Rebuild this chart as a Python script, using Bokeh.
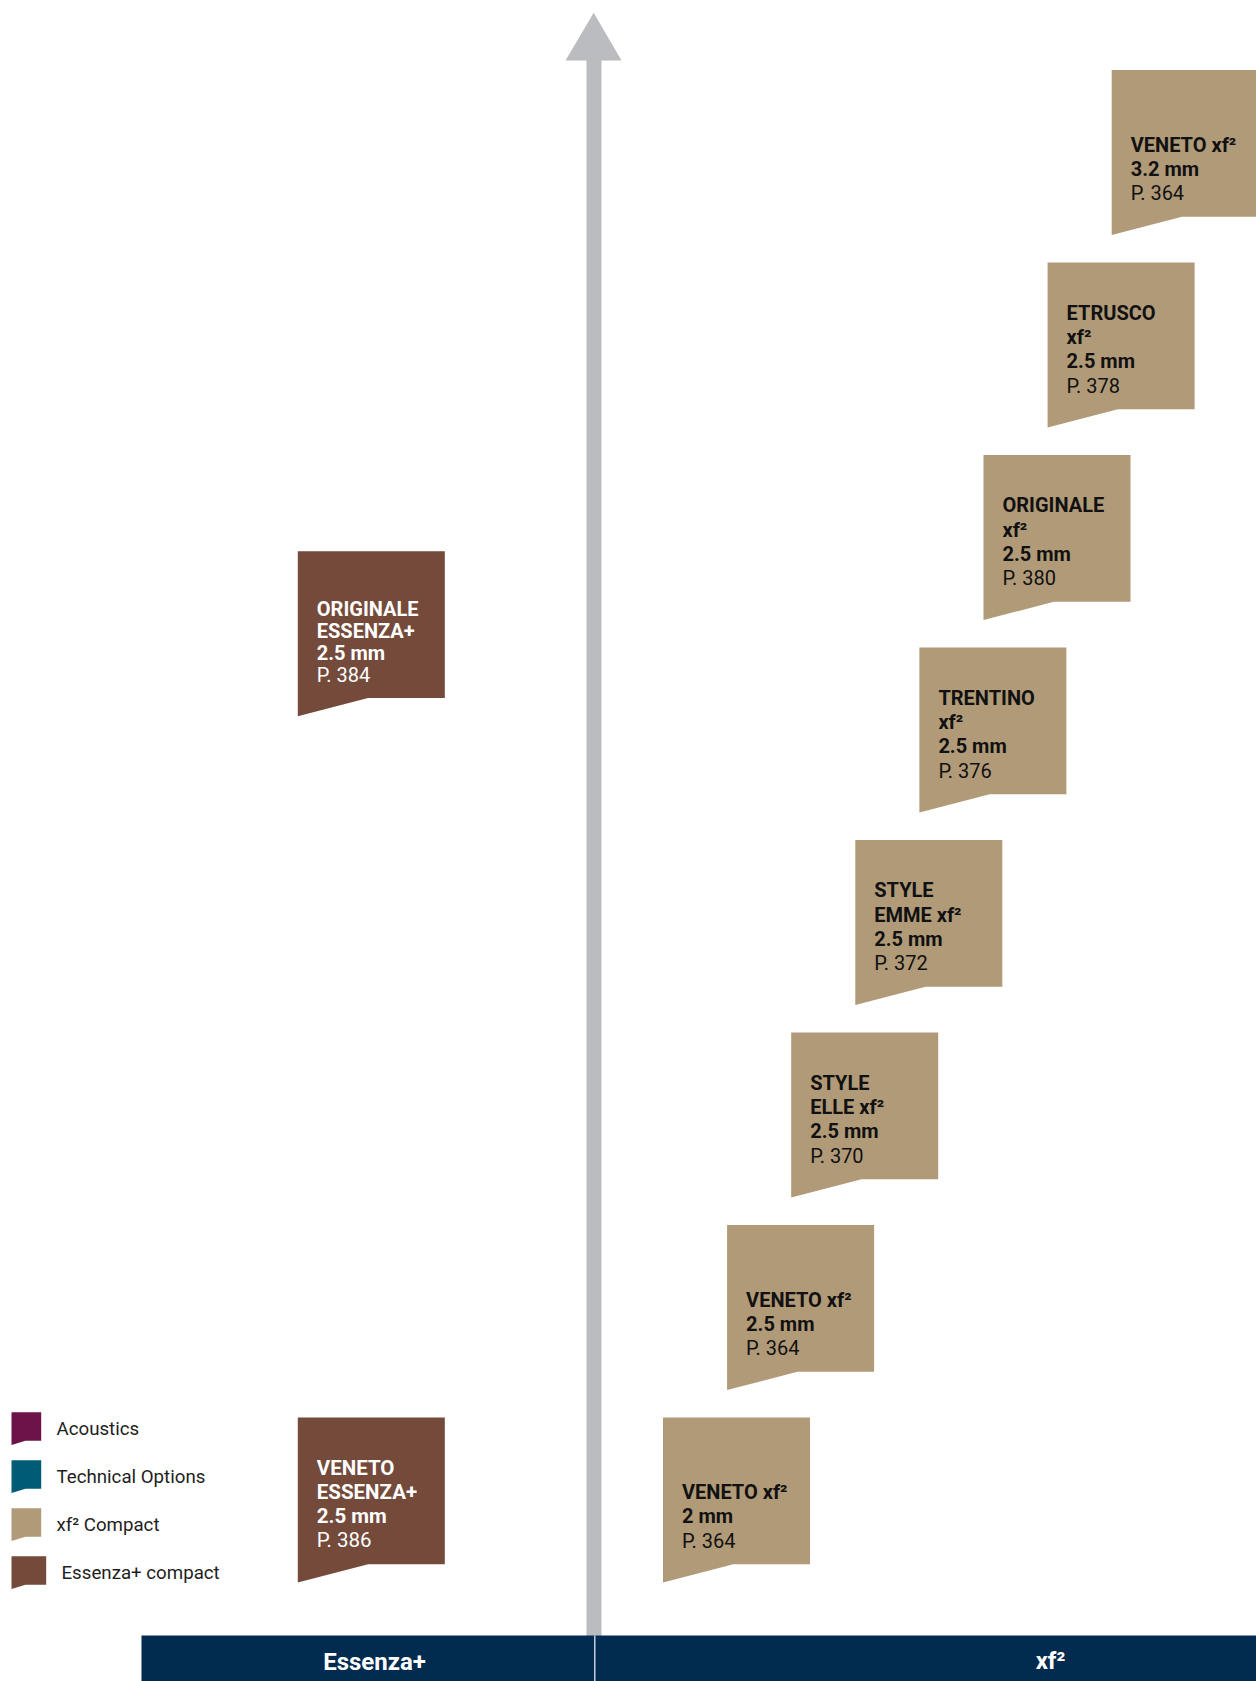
from bokeh.plotting import figure
from bokeh.models import Range1d, ColumnDataSource
from bokeh.core.properties import value
from bokeh.embed import file_html
from bokeh.resources import INLINE

# ---------------- data ----------------
xf2_names = ["VENETO xf²", "VENETO xf²", "STYLE\nELLE xf²", "STYLE\nEMME xf²",
             "TRENTINO\nxf²", "ORIGINALE\nxf²", "ETRUSCO\nxf²", "VENETO xf²"]
xf2_thickness = ["2 mm", "2.5 mm", "2.5 mm", "2.5 mm", "2.5 mm", "2.5 mm", "2.5 mm", "3.2 mm"]
xf2_pages = [364, 364, 370, 372, 376, 380, 378, 364]
xf2_levels = [0, 1, 2, 3, 4, 5, 6, 7]

ess_names = ["VENETO\nESSENZA+", "ORIGINALE\nESSENZA+"]
ess_thickness = ["2.5 mm", "2.5 mm"]
ess_pages = [386, 384]
ess_levels = [0, 4.5]

legend_labels = ["Acoustics", "Technical Options", "xf² Compact", "Essenza+ compact"]
column_labels = ["Essenza+", "xf²"]

# ---------------- styles / layout ----------------
C_ACOUSTIC = "#6C1449"
C_TECH = "#005C76"
C_TAN = "#B09A78"
C_BROWN = "#744A3B"
C_NAVY = "#012B4F"
C_ARROW = "#BBBCBF"
legend_colors = [C_ACOUSTIC, C_TECH, C_TAN, C_BROWN]

TOP0 = 1417.0        # top of level-0 box
YSTEP = 192.5        # vertical distance per level
XF2_X0 = 662.5       # left of level-0 xf2 box
XF2_XSTEP = 64.1     # stagger per level
ESS_X = 297.3
BW, BH, TD, TL = 147.0, 146.8, 18.3, 70.3
PAD = 19.0
TSHIFT = -7.5        # baseline correction

FONT = value("Roboto")

W, H = 1256, 1681
p = figure(width=W, height=H, x_range=Range1d(0, W), y_range=Range1d(H, 0),
           output_backend="svg", toolbar_location=None, min_border=0,
           x_axis_location=None, y_axis_location=None, background_fill_color="white",
           border_fill_color="white")
p.grid.visible = False
p.outline_line_color = None


def flag(left, top, w, h, td, tl):
    xs = [left, left + w, left + w, left + tl, left]
    ys = [top, top, top + h, top + h, top + h + td]
    return xs, ys


# ---------------- arrow ----------------
p.quad(left=[586], right=[601], top=[59], bottom=[1636], fill_color=C_ARROW, line_color=None)
p.patch(x=[565, 621, 593.2], y=[60, 60, 12.3], fill_color=C_ARROW, line_color=None)

# ---------------- bottom bar ----------------
p.quad(left=[141], right=[1260], top=[1635], bottom=[1690], fill_color=C_NAVY, line_color=None)
p.segment(x0=[594.3], x1=[594.3], y0=[1635], y1=[1690], line_color="#E6E9EE", line_width=1.3)
p.text(x=[374, 1050], y=[1661, 1660.5], text=column_labels, text_font=FONT,
       text_font_style="bold", text_font_size=value("24px"), text_color="white",
       text_align="center", text_baseline="alphabetic")

# ---------------- boxes ----------------
box_xs, box_ys, box_cols = [], [], []
bold_x, bold_y, bold_t, bold_fs, bold_c = [], [], [], [], []
reg_x, reg_y, reg_t, reg_fs, reg_c = [], [], [], [], []


def add_box(left, top, name, thick, page, fill, tcolor, fs, lh, last_off):
    xs, ys = flag(left, top, BW, BH, TD, TL)
    box_xs.append(xs)
    box_ys.append(ys)
    box_cols.append(fill)
    lines = name.split("\n") + [thick]
    n = len(lines) + 1
    base_last = top + last_off + TSHIFT
    for i, ln in enumerate(lines):
        bold_x.append(left + PAD)
        bold_y.append(base_last - (n - 1 - i) * lh)
        bold_t.append(ln)
        bold_fs.append(fs)
        bold_c.append(tcolor)
    reg_x.append(left + PAD)
    reg_y.append(base_last)
    reg_t.append("P. %d" % page)
    reg_fs.append(fs)
    reg_c.append(tcolor)


for nm, th, pg, lv in zip(xf2_names, xf2_thickness, xf2_pages, xf2_levels):
    add_box(XF2_X0 + lv * XF2_XSTEP, TOP0 - lv * YSTEP, nm, th, pg, C_TAN, "#111111",
            "20px", 24.2, 130.5)

ess_fs = ["20.5px", "20px"]
ess_lh = [24.0, 21.8]
ess_off = [129.5, 131.0]
for k, (nm, th, pg, lv) in enumerate(zip(ess_names, ess_thickness, ess_pages, ess_levels)):
    add_box(ESS_X, TOP0 - lv * YSTEP, nm, th, pg, C_BROWN, "#FFFFFF",
            ess_fs[k], ess_lh[k], ess_off[k])

p.patches(xs=box_xs, ys=box_ys, fill_color=box_cols, line_color=None)

bold_src = ColumnDataSource(dict(x=bold_x, y=bold_y, text=bold_t, fs=bold_fs, c=bold_c))
reg_src = ColumnDataSource(dict(x=reg_x, y=reg_y, text=reg_t, fs=reg_fs, c=reg_c))
p.text(x="x", y="y", text="text", source=bold_src, text_font=FONT, text_font_style="bold",
       text_font_size="fs", text_color="c", text_align="left", text_baseline="alphabetic")
p.text(x="x", y="y", text="text", source=reg_src, text_font=FONT, text_font_style="normal",
       text_font_size="fs", text_color="c", text_align="left", text_baseline="alphabetic")

# ---------------- legend ----------------
LEG_TOP0, LEG_STEP = 1411.7, 48.0
leg_w = [29.7, 29.7, 29.7, 34.7]
leg_tx = [56, 56, 56, 61]
lxs, lys = [], []
for i in range(len(legend_labels)):
    xs, ys = flag(11, LEG_TOP0 + i * LEG_STEP, leg_w[i], 28.5, 4.2, 14)
    lxs.append(xs)
    lys.append(ys)
p.patches(xs=lxs, ys=lys, fill_color=legend_colors, line_color=None)
p.text(x=leg_tx, y=[LEG_TOP0 + i * LEG_STEP + 17.0 for i in range(len(legend_labels))],
       text=legend_labels, text_font=FONT, text_font_size=value("18.7px"),
       text_color="#1E1E1E", text_align="left", text_baseline="alphabetic")

open("out.html", "w").write(file_html(p, INLINE))
